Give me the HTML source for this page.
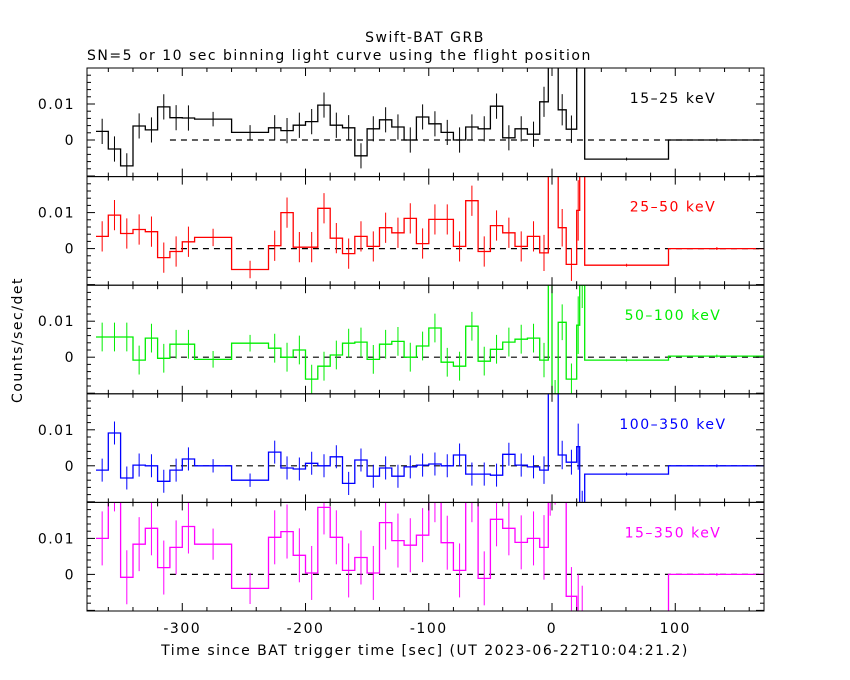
<!DOCTYPE html>
<html><head><meta charset="utf-8"><style>
body{margin:0;background:#fff;}
svg{display:block;font-family:"DejaVu Sans","Liberation Sans",sans-serif;}
svg text{letter-spacing:1.5px;}
</style></head><body>
<svg id="chart" width="850" height="680" viewBox="0 0 850 680" xmlns="http://www.w3.org/2000/svg">
<rect width="850" height="680" fill="#fff"/>
<text x="425" y="42" text-anchor="middle" font-size="14">Swift-BAT GRB</text>
<text x="87" y="60" font-size="14">SN=5 or 10 sec binning light curve using the flight position</text>
<text x="0" y="0" font-size="14" text-anchor="middle" transform="translate(22,340) rotate(-90)">Counts/sec/det</text>
<text x="425" y="655" font-size="14" text-anchor="middle">Time since BAT trigger time [sec] (UT 2023-06-22T10:04:21.2)</text>
<g id="plots"></g>
</svg>
<script>
const edges = [-370,-360,-350,-340,-330,-320,-310,-300,-290,-260,-230,-220,-210,-200,-190,-180,-170,-160,-150,-140,-130,-120,-110,-100,-90,-80,-70,-60,-50,-40,-30,-20,-10,-3,0,5,11.5,20,22.5,26.5,94.5,173];
const bandLabels = ["15\u201325 keV","25\u201350 keV","50\u2013100 keV","100\u2013350 keV","15\u2013350 keV"];
const bandColors = ["#000000","#ff0000","#00ee00","#0000ff","#ff00ff"];
const rate15_25 = [0.0024,-0.0025,-0.0072,0.0039,0.0028,0.0092,0.0062,0.0061,0.0058,0.0021,0.0034,0.0026,0.0041,0.0051,0.0097,0.0041,0.0034,-0.0044,0.0031,0.0056,0.0036,0.0,0.0064,0.0045,0.0021,0.0,0.0036,0.0031,0.0094,0.0006,0.0031,0.0016,0.0106,0.03,0.03,0.0084,0.003,0.03,0.03,-0.0053,0.0];
const rate25_50 = [0.0034,0.0093,0.0042,0.0053,0.0047,-0.0025,-0.0008,0.0019,0.0031,-0.0058,0.0008,0.01,0.0004,0.0004,0.0112,0.0029,-0.0014,0.0034,0.0006,0.0058,0.0044,0.0084,0.0014,0.0081,0.0081,0.0006,0.0133,-0.0008,0.0064,0.0044,0.0006,0.0034,-0.0012,0.03,0.03,0.0058,-0.0044,0.0106,0.03,-0.0046,0.0];
const rate50_100 = [0.0056,0.0056,0.0056,-0.0008,0.0053,-0.0003,0.0036,0.0036,-0.0006,0.0039,0.0025,0.0,0.002,-0.0061,-0.0025,0.0006,0.0039,0.0042,-0.0006,0.0036,0.0044,0.0,0.0031,0.0081,-0.0014,-0.0025,0.0086,-0.0011,0.0022,0.0042,0.005,0.0053,-0.0008,0.03,-0.012,0.0097,-0.0061,0.0089,0.02,-0.0008,0.0003];
const rate100_350 = [-0.0012,0.0091,-0.0034,0.0002,0.0,-0.0043,-0.0012,0.0019,0.0,-0.004,0.0038,-0.0006,-0.0009,0.0007,0.0,0.0025,-0.0049,0.0016,-0.0029,-0.0006,-0.0029,-0.0003,0.0002,0.0005,0.0,0.003,-0.0023,-0.0023,-0.0026,0.0032,0.0002,-0.0003,-0.0012,0.03,0.03,0.003,0.001,0.0053,-0.012,-0.0023,0.0];
const rate15_350 = [0.01,0.025,-0.0008,0.0084,0.0128,0.0019,0.0075,0.0133,0.0084,-0.0039,0.0103,0.0119,0.0053,0.0004,0.0186,0.0103,0.0011,0.0047,0.0004,0.0144,0.0094,0.0081,0.0109,0.022,0.0088,0.0011,0.022,-0.0011,0.0153,0.0128,0.0089,0.01,0.0075,0.03,0.03,0.03,-0.0061,-0.015,-0.015,-0.015,0.0];
const errorBase = [0.0035,0.0042,0.004,0.0032,0.0075];
const xTicks = [-300,-200,-100,0,100];
const yTicks = [0,0.01];
const series = [rate15_25,rate25_50,rate50_100,rate100_350,rate15_350];

const X0=87,X1=764,T0=-377.3,T1=172;
const PT=68,PH=108.6,YMAX=0.02,YMIN=-0.01017;
function xs(t){return X0+(t-T0)/(T1-T0)*(X1-X0);}
function ys(i,v){return PT+i*PH+(YMAX-v)/(YMAX-YMIN)*PH;}
const NS="http://www.w3.org/2000/svg";
const root=document.getElementById('plots');
function mk(tag,attrs,parent){const e=document.createElementNS(NS,tag);for(const k in attrs)e.setAttribute(k,attrs[k]);(parent||root).appendChild(e);return e;}

const defs=mk('defs',{});
for(let i=0;i<5;i++){
  const cp=mk('clipPath',{id:'clip'+i},defs);
  mk('rect',{x:X0,y:PT+i*PH,width:X1-X0,height:PH},cp);
}
for(let i=0;i<5;i++){
  const g=mk('g',{});
  
  
  const top=PT+i*PH,bot=top+PH;
  const data=series[i],col=bandColors[i];
  const cg=mk('g',{'clip-path':'url(#clip'+i+')'},g);
  const zl=mk('line',{x1:xs(-310),x2:X1,y1:ys(i,0),y2:ys(i,0),stroke:'#000','stroke-width':1.2,'stroke-dasharray':'6,5'},cg);
  
  
  let d='';
  for(let k=0;k<data.length;k++){
    const xa=xs(edges[k]),xb=xs(edges[k+1]),y=ys(i,data[k]);
    d+=(k===0?'M':'L')+xa.toFixed(1)+','+y.toFixed(1)+'L'+xb.toFixed(1)+','+y.toFixed(1);
  }
  const st=mk('path',{d:d,fill:'none',stroke:col,'stroke-width':1.3},cg);
  
  
  for(let k=0;k<data.length;k++){
    const w=edges[k+1]-edges[k];
    let e=errorBase[i]*Math.sqrt(10/w);
    if(w>60) e=0.0004;
    const xc=xs((edges[k]+edges[k+1])/2);
    const eb=mk('line',{x1:xc,x2:xc,y1:ys(i,data[k]+e),y2:ys(i,data[k]-e),stroke:col,'stroke-width':1},cg);
    
    
  }
  mk('rect',{x:X0,y:top,width:X1-X0,height:PH,fill:'none',stroke:'#000','stroke-width':1},g);
  for(let t=-360;t<=160;t+=20){
    const major=(t%100===0);const L=major?8:4;const x=xs(t);
    mk('line',{x1:x,x2:x,y1:top,y2:top+L,stroke:'#000'},g);
    mk('line',{x1:x,x2:x,y1:bot,y2:bot-L,stroke:'#000'},g);
  }
  for(let m=-5;m<=9;m++){
    const v=m*0.002;const y=ys(i,v);if(y<top||y>bot)continue;
    const major=(m%5===0);const L=major?8:4;
    mk('line',{x1:X0,x2:X0+L,y1:y,y2:y,stroke:'#000'},g);
    mk('line',{x1:X1,x2:X1-L,y1:y,y2:y,stroke:'#000'},g);
  }
  for(const v of yTicks){
    const tl=mk('text',{x:X0-12,y:ys(i,v)+5,'text-anchor':'end','font-size':14},g);
    tl.textContent=(v===0?'0':String(v));
    
    
  }
  const lb=mk('text',{x:673,y:top+35,'text-anchor':'middle','font-size':14,fill:col},g);
  lb.textContent=bandLabels[i];
  
  
}
for(const t of xTicks){
  const tl=mk('text',{x:xs(t),y:633,'text-anchor':'middle','font-size':14});
  tl.textContent=String(t);
  
  
}
</script>
</body></html>
